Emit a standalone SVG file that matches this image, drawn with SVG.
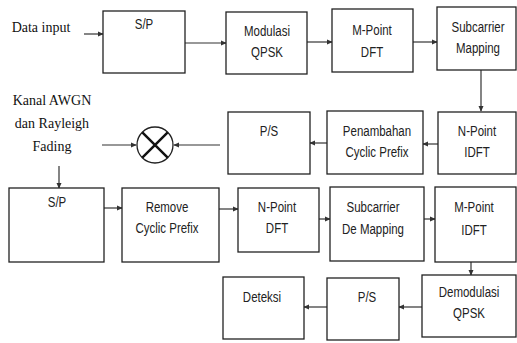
<svg xmlns="http://www.w3.org/2000/svg" width="517" height="343" viewBox="0 0 517 343">
<style>
.b{fill:#fff;stroke:#222;stroke-width:1.3}
.t{font-family:"Liberation Sans",Arial,sans-serif;font-size:14px;fill:#222;text-anchor:middle}
.s{font-family:"Liberation Serif",serif;font-size:14px;fill:#111;text-anchor:middle}
.c{fill:none;stroke:#333;stroke-width:1.2}
</style>
<defs>
<marker id="a" viewBox="0 0 8 8" refX="7" refY="4" markerWidth="6" markerHeight="6" markerUnits="userSpaceOnUse" orient="auto">
<path d="M0,0.5 L8,4 L0,7.5 Z" fill="#333"/>
</marker>
</defs>
<rect width="517" height="343" fill="#fff"/>
<text class="s" x="41" y="32">Data input</text>
<g class="s">
<text x="52" y="105">Kanal AWGN</text>
<text x="52" y="128">dan Rayleigh</text>
<text x="52" y="151">Fading</text>
</g>
<g id="connectors">
<line class="c" x1="84" y1="34" x2="103" y2="34" marker-end="url(#a)"/>
<line class="c" x1="185" y1="43" x2="226" y2="43" marker-end="url(#a)"/>
<line class="c" x1="307" y1="42" x2="332" y2="42" marker-end="url(#a)"/>
<line class="c" x1="413" y1="42" x2="437" y2="42" marker-end="url(#a)"/>
<line class="c" x1="481" y1="70" x2="481" y2="111" marker-end="url(#a)"/>
<line class="c" x1="438" y1="144" x2="423" y2="144" marker-end="url(#a)"/>
<line class="c" x1="327" y1="143" x2="310" y2="143" marker-end="url(#a)"/>
<line class="c" x1="220" y1="145" x2="174" y2="145" marker-end="url(#a)"/>
<line class="c" x1="102" y1="145" x2="136" y2="145" marker-end="url(#a)"/>
<line class="c" x1="59" y1="166" x2="59" y2="188" marker-end="url(#a)"/>
<line class="c" x1="104" y1="208" x2="122" y2="208" marker-end="url(#a)"/>
<line class="c" x1="219" y1="209" x2="238" y2="209" marker-end="url(#a)"/>
<line class="c" x1="319" y1="219" x2="330" y2="219" marker-end="url(#a)"/>
<line class="c" x1="424" y1="219" x2="435" y2="219" marker-end="url(#a)"/>
<line class="c" x1="471" y1="262" x2="471" y2="275" marker-end="url(#a)"/>
<line class="c" x1="422" y1="307" x2="399" y2="307" marker-end="url(#a)"/>
<line class="c" x1="327" y1="307" x2="304" y2="307" marker-end="url(#a)"/>
</g>
<g id="sp1"><rect class="b" x="103" y="11" width="82" height="62"/><text class="t" transform="translate(144,29) scale(0.82,1)">S/P</text></g>
<g id="mod"><rect class="b" x="226" y="12" width="81" height="62"/><text class="t" transform="translate(267,36) scale(0.82,1)">Modulasi</text><text class="t" transform="translate(267,57) scale(0.82,1)">QPSK</text></g>
<g id="mdft"><rect class="b" x="332" y="9" width="81" height="63"/><text class="t" transform="translate(372,35) scale(0.82,1)">M-Point</text><text class="t" transform="translate(372,57) scale(0.82,1)">DFT</text></g>
<g id="map"><rect class="b" x="437" y="7" width="79" height="63"/><text class="t" transform="translate(478,32) scale(0.82,1)">Subcarrier</text><text class="t" transform="translate(478,53) scale(0.82,1)">Mapping</text></g>
<g id="nidft"><rect class="b" x="438" y="112" width="78" height="62"/><text class="t" transform="translate(477,136) scale(0.82,1)">N-Point</text><text class="t" transform="translate(477,157) scale(0.82,1)">IDFT</text></g>
<g id="cp"><rect class="b" x="327" y="111" width="96" height="63"/><text class="t" transform="translate(377,136) scale(0.82,1)">Penambahan</text><text class="t" transform="translate(377,157) scale(0.82,1)">Cyclic Prefix</text></g>
<g id="ps1"><rect class="b" x="228" y="112" width="82" height="62"/><text class="t" transform="translate(269,136) scale(0.82,1)">P/S</text></g>
<g id="mult"><circle cx="155" cy="145" r="18" fill="#fff" stroke="#222" stroke-width="1.3"/><path d="M142.3,132.3 L167.7,157.7 M167.7,132.3 L142.3,157.7" stroke="#111" stroke-width="2.5"/></g>
<g id="sp2"><rect class="b" x="9" y="188" width="95" height="74"/><text class="t" transform="translate(57,207) scale(0.82,1)">S/P</text></g>
<g id="rcp"><rect class="b" x="122" y="188" width="97" height="74"/><text class="t" transform="translate(167,212) scale(0.82,1)">Remove</text><text class="t" transform="translate(167,233) scale(0.82,1)">Cyclic Prefix</text></g>
<g id="ndft"><rect class="b" x="238" y="188" width="81" height="64"/><text class="t" transform="translate(277,212) scale(0.82,1)">N-Point</text><text class="t" transform="translate(277,233) scale(0.82,1)">DFT</text></g>
<g id="demap"><rect class="b" x="330" y="187" width="94" height="74"/><text class="t" transform="translate(373,212) scale(0.82,1)">Subcarrier</text><text class="t" transform="translate(373,234) scale(0.82,1)">De Mapping</text></g>
<g id="midft"><rect class="b" x="435" y="187" width="81" height="75"/><text class="t" transform="translate(474,212) scale(0.82,1)">M-Point</text><text class="t" transform="translate(474,235) scale(0.82,1)">IDFT</text></g>
<g id="demod"><rect class="b" x="422" y="275" width="94" height="62"/><text class="t" transform="translate(469,297) scale(0.82,1)">Demodulasi</text><text class="t" transform="translate(469,318) scale(0.82,1)">QPSK</text></g>
<g id="ps2"><rect class="b" x="327" y="278" width="72" height="62"/><text class="t" transform="translate(367,302) scale(0.82,1)">P/S</text></g>
<g id="det"><rect class="b" x="223" y="277" width="81" height="62"/><text class="t" transform="translate(262,302) scale(0.82,1)">Deteksi</text></g>
</svg>
